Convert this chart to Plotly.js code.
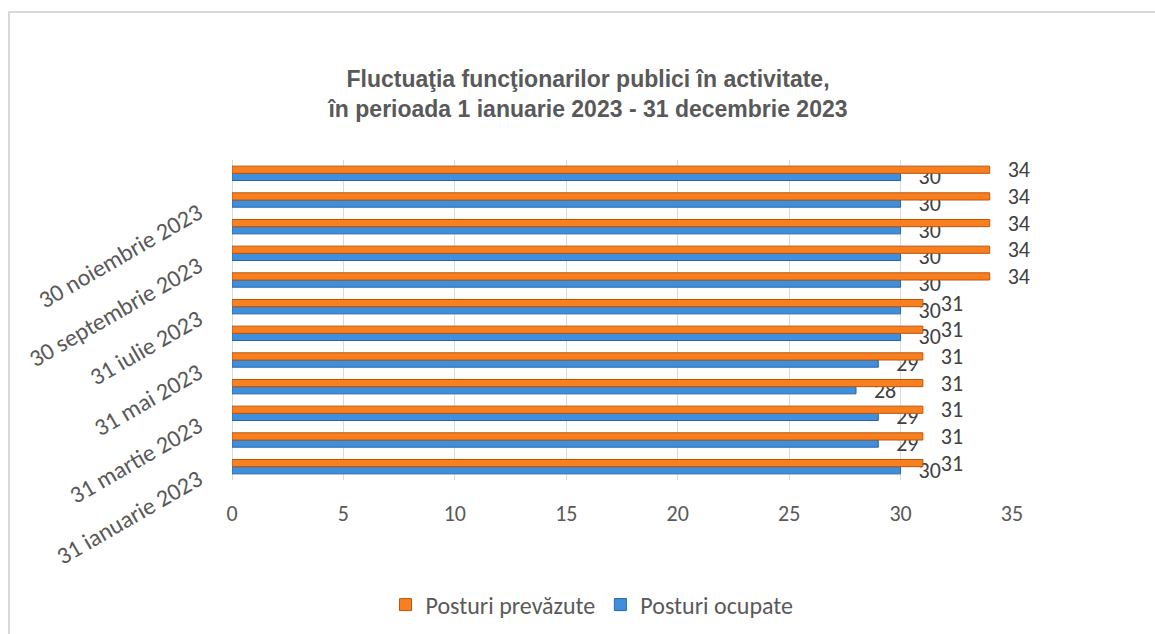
<!DOCTYPE html>
<html>
<head>
<meta charset="utf-8">
<script src="https://cdn.plot.ly/plotly-3.0.1.min.js"></script>
<style>
  html, body { margin: 0; padding: 0; overflow: hidden; background: #ffffff; }
  #chart { position: absolute; left: 0; top: 0; width: 1155px; height: 634px; }
  #frame { position: absolute; left: 8px; top: 11px; width: 1170px; height: 650px;
           border: 2px solid #d9d9d9; pointer-events: none; }
</style>
</head>
<body>
<div id="chart"></div>
<div id="frame"></div>
<script>
const categories = [
  "31 ianuarie 2023", "28 februarie 2023", "31 martie 2023", "30 aprilie 2023",
  "31 mai 2023", "30 iunie 2023", "31 iulie 2023", "31 august 2023",
  "30 septembrie 2023", "31 octombrie 2023", "30 noiembrie 2023", "31 decembrie 2023"
];
const posturiPrevazute = [31, 31, 31, 31, 31, 31, 31, 34, 34, 34, 34, 34];
const posturiOcupate   = [30, 29, 29, 28, 29, 30, 30, 30, 30, 30, 30, 30];
const shownCategoryLabels = [
  "31 ianuarie 2023", "31 martie 2023", "31 mai 2023",
  "31 iulie 2023", "30 septembrie 2023", "30 noiembrie 2023"
];
const xTickValues = [0, 5, 10, 15, 20, 25, 30, 35];
const seriesNames = ["Posturi prevăzute", "Posturi ocupate"];
const chartTitle = "Fluctuaţia funcţionarilor publici în activitate,<br>în perioada 1 ianuarie 2023 - 31 decembrie 2023";

const bodyFont = "Carlito, Lato, 'Open Sans', sans-serif";
const labelPad = "\u00a0\u00a0\u00a0";

const traces = [
  {
    type: "bar", orientation: "h",
    name: seriesNames[1],
    y: categories, x: posturiOcupate,
    marker: { color: "#3f8fdc", line: { color: "#2a64a0", width: 1 } },
    texttemplate: labelPad + "%{x}", textposition: "outside",
    constraintext: "none", cliponaxis: false,
    textfont: { family: bodyFont, size: 22, color: "#404040" },
    legendrank: 2, hoverinfo: "skip"
  },
  {
    type: "bar", orientation: "h",
    name: seriesNames[0],
    y: categories, x: posturiPrevazute,
    marker: { color: "#f97f1f", line: { color: "#b8560f", width: 1 } },
    texttemplate: labelPad + "%{x}", textposition: "outside",
    constraintext: "none", cliponaxis: false,
    textfont: { family: bodyFont, size: 22, color: "#404040" },
    legendrank: 1, hoverinfo: "skip"
  }
];

const layout = {
  width: 1155, height: 634,
  paper_bgcolor: "#ffffff", plot_bgcolor: "#ffffff",
  margin: { l: 232, r: 143, t: 160, b: 154 },
  barmode: "group", bargap: 0.46, bargroupgap: 0,
  title: {
    text: chartTitle,
    font: { family: "'Liberation Sans', Arial, sans-serif", size: 23, color: "#595959", weight: "bold" },
    xref: "container", x: 588 / 1155, xanchor: "center",
    yref: "container", y: 1 - 87 / 634, yanchor: "middle"
  },
  xaxis: {
    range: [0, 35], tickmode: "array", tickvals: xTickValues,
    showgrid: true, gridcolor: "#d9d9d9", gridwidth: 1,
    zeroline: true, zerolinecolor: "#d9d9d9", zerolinewidth: 1,
    showline: false,
    ticks: "outside", ticklen: 14, tickcolor: "rgba(0,0,0,0)",
    tickfont: { family: bodyFont, size: 22, color: "#595959" },
    fixedrange: true
  },
  yaxis: {
    type: "category", categoryorder: "array", categoryarray: categories,
    range: [-0.5, 11.5],
    tickmode: "array", tickvals: shownCategoryLabels, ticktext: shownCategoryLabels,
    tickangle: -30,
    showgrid: false, zeroline: false, showline: false,
    ticks: "outside", ticklen: 28, tickcolor: "rgba(0,0,0,0)",
    ticklabelshift: 10,
    tickfont: { family: bodyFont, size: 24, color: "#595959" },
    fixedrange: true
  },
  showlegend: true,
  legend: {
    orientation: "h",
    xref: "container", x: 592 / 1155, xanchor: "center",
    yref: "container", y: 1 - 605 / 634, yanchor: "middle",
    font: { family: bodyFont, size: 24, color: "#595959" },
    itemclick: false, itemdoubleclick: false
  }
};

Plotly.newPlot("chart", traces, layout, { displayModeBar: false, staticPlot: true });
</script>
</body>
</html>
